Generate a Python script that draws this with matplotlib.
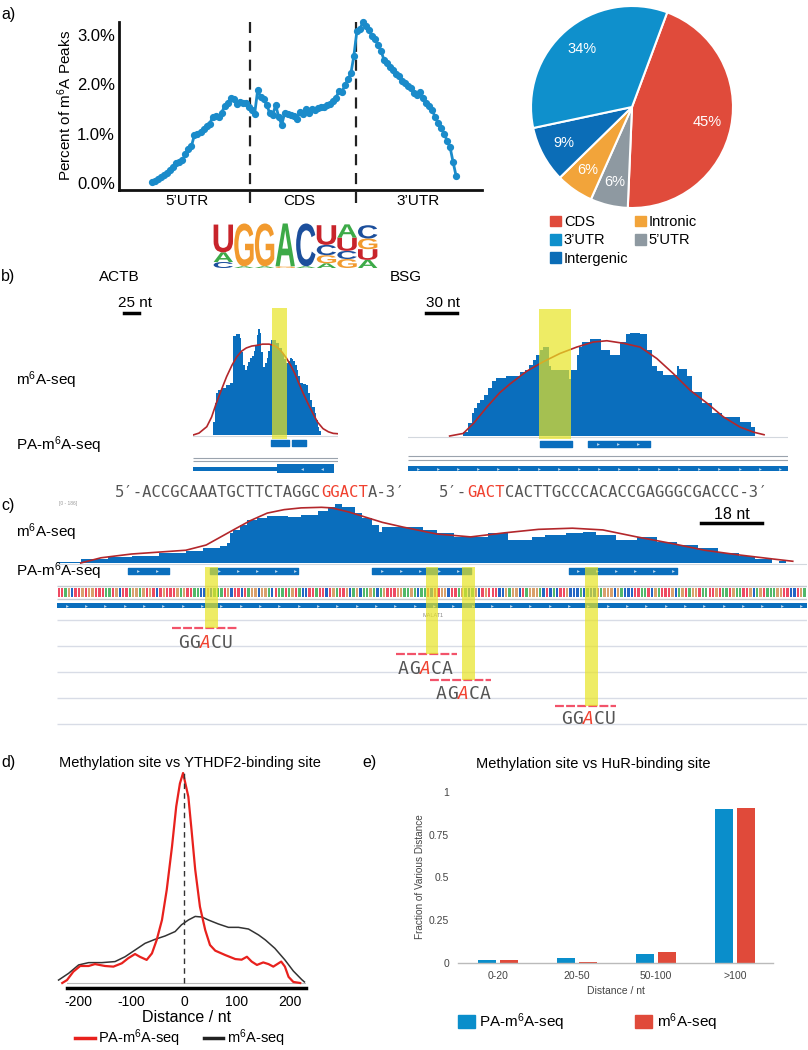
import numpy as np
import matplotlib
matplotlib.use('Agg')
import matplotlib.pyplot as plt
from matplotlib.patches import PathPatch, Patch
from matplotlib.lines import Line2D
from matplotlib.textpath import TextPath
from matplotlib.font_manager import FontProperties
from matplotlib.transforms import Affine2D

plt.rcParams['font.family'] = 'Liberation Sans'
plt.rcParams['mathtext.fontset'] = 'custom'
plt.rcParams['mathtext.rm'] = 'Liberation Sans'
plt.rcParams['mathtext.it'] = 'Liberation Sans:italic'
plt.rcParams['mathtext.bf'] = 'Liberation Sans:bold'

W, H = 808, 1050

# ---------------- data ----------------
# a) metagene profile of m6A peaks (percent), one value per bin
peak_pct = [0.02, 0.05, 0.09, 0.13, 0.17, 0.21, 0.27, 0.33, 0.40, 0.42,
            0.47, 0.58, 0.68, 0.75, 0.98, 1.00, 1.03, 1.10, 1.16, 1.20,
            1.33, 1.36, 1.34, 1.42, 1.56, 1.62, 1.72, 1.70, 1.60, 1.65,
            1.63, 1.62, 1.55, 1.48, 1.40, 1.88, 1.75, 1.70, 1.58, 1.42,
            1.38, 1.58, 1.34, 1.18, 1.42, 1.40, 1.38, 1.36, 1.30, 1.44,
            1.40, 1.50, 1.42, 1.50, 1.48, 1.52, 1.54, 1.55, 1.58, 1.60,
            1.66, 1.72, 1.86, 1.84, 1.98, 2.10, 2.22, 2.58, 3.08, 3.12,
            3.26, 3.18, 3.10, 2.98, 2.92, 2.80, 2.68, 2.50, 2.44, 2.36,
            2.30, 2.20, 2.16, 2.06, 2.02, 1.96, 1.92, 1.82, 1.78, 1.85,
            1.72, 1.62, 1.56, 1.48, 1.34, 1.22, 1.12, 1.00, 0.86, 0.72,
            0.42, 0.14]
region_edges = [32.4, 67.6]
region_names = ['5’UTR', 'CDS', '3’UTR']
region_centers = [11.5, 49, 88.5]

# motif logo, each column listed bottom -> top (letter, bits)
logo_cols = [
    [('C', 0.28), ('A', 0.45), ('U', 1.30)],
    [('A', 0.08), ('G', 2.00)],
    [('A', 0.08), ('G', 2.00)],
    [('G', 0.08), ('A', 2.00)],
    [('A', 0.08), ('C', 2.00)],
    [('A', 0.22), ('G', 0.38), ('C', 0.48), ('U', 0.92)],
    [('G', 0.42), ('C', 0.38), ('U', 0.62), ('A', 0.62)],
    [('A', 0.38), ('U', 0.50), ('G', 0.50), ('C', 0.62)],
]
logo_colors = {'U': '#C8242B', 'G': '#F29A2E', 'A': '#3DAA48', 'C': '#1C4F9C'}

# pie: peak distribution
pie_labels = ['CDS', '5’UTR', 'Intronic', 'Intergenic', '3’UTR']
pie_vals = [45, 6, 6, 9, 34]
pie_colors = ['#E04B3B', '#8E99A1', '#F2A43A', '#0B6DB7', '#0F90CC']

# b) ACTB coverage (step) and fit
actb_pos = [34, 36, 38, 42, 48, 55, 62, 66, 67, 72, 78, 80, 84, 87, 90, 92, 95, 98,
            101, 103, 106, 109, 112, 114, 117, 120, 123, 126, 128, 131, 135, 139,
            143, 148, 152, 156, 159, 162, 165, 167, 170, 173, 176, 178, 183, 189,
            192, 195, 199, 203, 206, 209, 211, 213]
actb_cov = [0.10, 0.25, 0.33, 0.35, 0.37, 0.39, 0.41, 0.60, 0.77, 0.79, 0.76, 0.65,
            0.55, 0.51, 0.54, 0.57, 0.60, 0.62, 0.66, 0.70, 0.78, 0.83, 0.80, 0.65,
            0.53, 0.56, 0.60, 0.66, 0.70, 0.74, 0.74, 0.72, 0.68, 0.63, 0.59, 0.56,
            0.58, 0.60, 0.59, 0.58, 0.55, 0.51, 0.46, 0.41, 0.40, 0.39, 0.33, 0.27,
            0.22, 0.17, 0.12, 0.06, 0.03, 0.0]
actb_fit_pos = [0, 10, 23, 31, 39, 48, 56, 65, 73, 81, 89, 98, 106, 116, 127, 135,
                142, 149, 156, 163, 170, 177, 184, 192, 200, 208, 217, 226, 234, 242]
actb_fit = [0.0, 0.015, 0.065, 0.14, 0.25, 0.36, 0.455, 0.545, 0.61, 0.655, 0.68,
            0.695, 0.70, 0.71, 0.71, 0.70, 0.68, 0.645, 0.60, 0.545, 0.48, 0.40,
            0.325, 0.245, 0.17, 0.10, 0.05, 0.025, 0.013, 0.01]
actb_site = (132, 157)
actb_pa = [(130, 30), (165, 23)]

# b) BSG coverage and fit
bsg_pos = [53, 58, 61, 63, 66, 69, 73, 77, 81, 85, 94, 104, 108, 112, 116, 120, 123,
           127, 130, 135, 137, 143, 155, 157, 162, 164, 167, 175, 185, 194, 204, 209,
           213, 223, 230, 234, 239, 245, 258, 260, 268, 273, 282, 292, 302, 319, 329,
           333]
bsg_cov = [0.03, 0.10, 0.18, 0.22, 0.26, 0.28, 0.32, 0.38, 0.43, 0.46, 0.47, 0.47,
           0.50, 0.52, 0.56, 0.60, 0.64, 0.68, 0.70, 0.55, 0.52, 0.52, 0.45, 0.52,
           0.64, 0.70, 0.74, 0.76, 0.68, 0.64, 0.74, 0.80, 0.81, 0.80, 0.68, 0.55,
           0.51, 0.48, 0.55, 0.53, 0.47, 0.35, 0.26, 0.18, 0.15, 0.11, 0.07, 0.0]
bsg_fit_pos = [40, 53, 63, 76, 88, 98, 114, 130, 146, 162, 178, 191, 207, 223, 239,
               255, 271, 287, 303, 319, 332, 342]
bsg_fit = [0.0, 0.02, 0.10, 0.23, 0.34, 0.41, 0.51, 0.585, 0.65, 0.70, 0.74, 0.75,
           0.73, 0.70, 0.61, 0.49, 0.36, 0.26, 0.15, 0.07, 0.03, 0.01]
bsg_site = (126, 157)
bsg_pa = [(127, 31), (173, 59)]

# c) MALAT1 region
c_pos = [0, 7, 15, 22, 30, 38, 43, 48, 50, 51, 52, 54, 56, 59, 62, 65, 68, 72, 77, 80,
         82, 84, 87, 88, 90, 93, 95, 96, 102, 108, 112, 117, 122, 127, 132, 133, 138,
         140, 144, 150, 155, 159, 165, 171, 177, 183, 189, 195, 201, 206, 211, 213, 215]
c_cov = [0.02, 0.07, 0.10, 0.12, 0.17, 0.21, 0.26, 0.29, 0.34, 0.52, 0.57, 0.66, 0.74,
         0.78, 0.81, 0.81, 0.79, 0.83, 0.90, 0.97, 1.02, 0.97, 0.97, 0.86, 0.78, 0.66,
         0.53, 0.62, 0.62, 0.57, 0.52, 0.45, 0.45, 0.52, 0.52, 0.40, 0.40, 0.45, 0.48,
         0.52, 0.53, 0.48, 0.40, 0.45, 0.36, 0.31, 0.26, 0.17, 0.12, 0.07, 0.0, 0.03, 0.0]
c_fit_pos = [7, 13, 22, 38, 44, 52, 57, 62, 67, 72, 78, 81, 86, 91, 96, 102, 107, 112,
             122, 132, 142, 152, 161, 171, 181, 191, 201, 211, 217]
c_fit = [0.0, 0.09, 0.155, 0.22, 0.31, 0.57, 0.73, 0.86, 0.92, 0.95, 0.96, 0.95, 0.88,
         0.79, 0.70, 0.62, 0.56, 0.50, 0.45, 0.52, 0.58, 0.60, 0.57, 0.45, 0.34, 0.22,
         0.14, 0.07, 0.03]
c_pa = [(21, 12), (45, 26), (93, 29), (151, 32)]
c_seq = ('TTAGCTTGTGGTTTAATGCTTAGGAGTGTCTGTTTGAGTTAACCGCAAATGCTTCTAGGCGGACTAATAGTACC'
         'TTATTCTGATTGCAGCAAGACAGTTTGGAAGACAATCTTGGCTTAGACAGCTGTTTCCGAGGCTAGGGACTC'
         'ACTTGCCCACACCGAGGGCGACCCTTAATCGATTTGCAGTAGGTAATTGTAATGAATTGCAGTAAAGGTTCCTGA')
base_colors = {'A': '#52B86A', 'C': '#2366C4', 'G': '#D9A06C', 'T': '#EE4A62'}
c_sites = [45.6, 110.6, 121.3, 157.7]
c_motifs = ['GGACU', 'AGACA', 'AGACA', 'GGACU']
c_reads = [(34, 53), (100, 118), (110, 128), (147, 165)]
c_motif_x = [43.7, 108.6, 119.8, 156.6]

# d) distance profiles
pa_nt = [-231, -222, -210, -197, -181, -169, -150, -134, -118, -106, -93, -84, -71,
         -61, -52, -42, -33, -23, -15, -8, -2, 8, 14, 21, 30, 40, 49, 59, 78, 97,
         109, 119, 128, 138, 150, 160, 169, 184, 191, 198, 207, 220]
pa_val = [0.0, 0.014, 0.054, 0.081, 0.081, 0.09, 0.081, 0.078, 0.094, 0.118, 0.138,
          0.125, 0.11, 0.141, 0.205, 0.30, 0.443, 0.649, 0.84, 0.95, 1.0, 0.887, 0.73,
          0.54, 0.363, 0.252, 0.181, 0.154, 0.133, 0.114, 0.111, 0.125, 0.102, 0.086,
          0.098, 0.09, 0.078, 0.102, 0.078, 0.029, 0.005, 0.0]
m6a_nt = [-238, -219, -200, -181, -156, -131, -112, -93, -74, -55, -36, -17, -5, 8,
          21, 34, 46, 65, 84, 103, 122, 141, 154, 172, 191, 207, 223, 228]
m6a_val = [0.014, 0.046, 0.086, 0.097, 0.097, 0.102, 0.125, 0.157, 0.189, 0.208,
           0.224, 0.245, 0.277, 0.30, 0.317, 0.314, 0.30, 0.281, 0.265, 0.265, 0.257,
           0.229, 0.205, 0.165, 0.11, 0.057, 0.016, 0.005]

# e) HuR distance fractions
e_cats = ['0-20', '20-50', '50-100', '>100']
e_pa = [0.017, 0.029, 0.050, 0.897]
e_m6a = [0.019, 0.008, 0.064, 0.905]

IGV_BLUE = '#0A6EBD'
FIT_RED = '#B3272B'
YEL = '#E8E424'

fig = plt.figure(figsize=(W / 100, H / 100), dpi=100)


def box(x0, y0, x1, y1):
    return [x0 / W, 1 - y1 / H, (x1 - x0) / W, (y1 - y0) / H]


def label(x, y, s, **kw):
    kw.setdefault('va', 'center')
    kw.setdefault('fontsize', 11)
    return fig.text(x / W, 1 - y / H, s, **kw)


def chevrons(ax, x0, x1, y, step, marker='>'):
    xs = np.arange(x0 + step / 2, x1, step)
    ax.plot(xs, np.full(len(xs), y), ls='none', marker=marker, ms=2.0,
            mfc='white', mec='none', alpha=0.75, zorder=4)


# ---------------- a) ----------------
label(1, 15, 'a)', fontsize=11.5)
ax = fig.add_axes(box(119, 22, 482, 190))
bins = np.arange(len(peak_pct))
ax.plot(bins, peak_pct, '-o', color='#1A8BCA', lw=2, ms=4.2, clip_on=False, zorder=3)
ax.set_xlim(-11.1, 109.6)
ax.set_ylim(-0.142, 3.264)
for b in region_edges:
    ax.plot([b, b], [-0.405, 3.264], color='#222222', lw=1.6, dashes=(5, 3.5),
            clip_on=False)
ax.set_yticks([0, 1, 2, 3])
ax.set_yticklabels(['0.0%', '1.0%', '2.0%', '3.0%'], fontsize=12)
ax.set_xticks(region_centers)
ax.set_xticklabels(region_names, fontsize=11)
ax.tick_params(length=0)
ax.tick_params(axis='y', pad=3)
ax.tick_params(axis='x', pad=3)
for s in ['top', 'right']:
    ax.spines[s].set_visible(False)
for s in ['left', 'bottom']:
    ax.spines[s].set_linewidth(2)
    ax.spines[s].set_color('#111111')
label(65, 105, 'Percent of m$^6$A Peaks', rotation=90, ha='center', fontsize=11)

# motif logo
axl = fig.add_axes(box(213, 222, 378, 268))
axl.set_xlim(0.5, 8.5)
axl.set_ylim(0, 2.15)
axl.axis('off')
fp = FontProperties(family='Liberation Sans', weight='bold')
for i, stack in enumerate(logo_cols):
    y = 0
    for letter, h in stack:
        tp = TextPath((0, 0), letter, size=1, prop=fp)
        bb = tp.get_extents()
        tr = (Affine2D().translate(-bb.x0, -bb.y0)
              .scale(0.94 / bb.width, h / bb.height)
              .translate(i + 1 - 0.47, y))
        axl.add_patch(PathPatch(tr.transform_path(tp), color=logo_colors[letter], lw=0))
        y += h

# pie
axp = fig.add_axes(box(531, 6, 733, 208))
axp.pie(pie_vals, colors=pie_colors, startangle=69.6, counterclock=False,
        autopct=lambda p: f'{p:.0f}%', pctdistance=0.76,
        wedgeprops=dict(edgecolor='white', linewidth=1.5),
        textprops=dict(color='white', fontsize=10.5))
axp.set_xlim(-1, 1)
axp.set_ylim(-1, 1)
order = [0, 4, 3, 2, 1]
handles = [Patch(color=pie_colors[i]) for i in order]
fig.legend(handles, [pie_labels[i] for i in order], ncol=2, loc='upper left',
           bbox_to_anchor=(550 / W, 1 - 215 / H), frameon=False, fontsize=10.5,
           handlelength=0.75, handleheight=0.75, handletextpad=0.2,
           columnspacing=0.45, labelspacing=0.3, borderpad=0, borderaxespad=0)

# ---------------- b) ----------------
label(1, 277, 'b)', fontsize=11.5)
label(99, 277, 'ACTB')
label(390, 277, 'BSG')
label(118, 303, '25 nt')
fig.add_artist(Line2D([124 / W, 139 / W], [1 - 313 / H] * 2, color='black', lw=2.5))
label(426, 303, '30 nt')
fig.add_artist(Line2D([426 / W, 457 / W], [1 - 313 / H] * 2, color='black', lw=2.5))
label(16, 380, 'm$^6$A-seq')
label(16, 445, 'PA-m$^6$A-seq')


def gene_track(rect, xmax, ylo, pos, cov, fit_pos, fit, site, site_y, pa, pa_y,
               gray_y):
    a = fig.add_axes(rect)
    a.set_facecolor('#F7F8FA')
    a.fill_between(pos, cov, step='post', color=IGV_BLUE, lw=0, zorder=2)
    a.plot(fit_pos, fit, color=FIT_RED, lw=1.2, zorder=3)
    a.axhline(-0.008, color='#D3D8DE', lw=0.8, zorder=1)
    a.fill_between(site, site_y[0], site_y[1], color=YEL, alpha=0.7, lw=0, zorder=5)
    a.broken_barh(pa, pa_y, color=IGV_BLUE, zorder=3)
    a.hlines(gray_y, 0, xmax, color='#9AA3AD', lw=0.8)
    a.set_xlim(0, xmax)
    a.set_ylim(ylo, 1.0)
    a.axis('off')
    return a


axa = gene_track(box(193, 307, 338, 476), 242, -0.32, actb_pos, actb_cov,
                 actb_fit_pos, actb_fit, actb_site, (-0.031, 0.99), actb_pa,
                 (-0.086, 0.047), [-0.18, -0.203])
axa.fill_between([0, 140], -0.281, -0.25, color=IGV_BLUE, lw=0)
axa.fill_between([140, 235], -0.297, -0.227, color=IGV_BLUE, lw=0)
chevrons(axa, 165, 235, -0.262, 33, marker='<')

axb = gene_track(box(408, 309, 788, 476), 365, -0.315, bsg_pos, bsg_cov,
                 bsg_fit_pos, bsg_fit, bsg_site, (-0.024, 1.0), bsg_pa,
                 (-0.087, 0.048), [-0.157, -0.189])
axb.fill_between([0, 365], -0.276, -0.236, color=IGV_BLUE, lw=0)
chevrons(axb, 0, 365, -0.256, 19.3)
chevrons(axb, 173, 232, -0.063, 19.3)

# sequences
mono = 'DejaVu Sans Mono'
cw = 0.602 * 11.2 * 100 / 72


def seq_line(x, y, parts):
    for txt, col in parts:
        label(x, y, txt, family=mono, fontsize=11.2, color=col, ha='left')
        x += len(txt) * cw


seq_line(115, 492, [('5′-ACCGCAAATGCTTCTAGGC', '#555555'), ('GGACT', '#F0412F'),
                    ('A-3′', '#555555')])
seq_line(439, 492, [('5′-', '#555555'), ('GACT', '#F0412F'),
                    ('CACTTGCCCACACCGAGGGCGACCC-3′', '#555555')])

# ---------------- c) ----------------
label(1, 505, 'c)', fontsize=11.5)
label(16, 532, 'm$^6$A-seq')
label(16, 571, 'PA-m$^6$A-seq')
axc = fig.add_axes(box(57, 500, 807, 730))
axc.set_facecolor('#FAFAFC')
axc.fill_between(c_pos, c_cov, step='post', color=IGV_BLUE, lw=0, zorder=2)
axc.plot(c_fit_pos, c_fit, color=FIT_RED, lw=1.2, zorder=3)
axc.axhline(-0.01, color='#D3D8DE', lw=0.8)
axc.text(0.5, 1.03, '[0 - 186]', fontsize=3.5, color='#999999', va='center')
axc.broken_barh(c_pa, (-0.19, 0.10), color=IGV_BLUE, zorder=3)
for x0, w in c_pa:
    chevrons(axc, x0, x0 + w, -0.14, 5.6)
axc.hlines([-0.40, -0.62], 0, 221.2, color='#C4C9D0', lw=1)
seq = c_seq[:221]
axc.bar(np.arange(len(seq)) + 0.5, 0.16, bottom=-0.59, width=0.7,
        color=[base_colors[b] for b in seq], lw=0)
axc.fill_between([0, 221.2], -0.78, -0.69, color=IGV_BLUE, lw=0)
chevrons(axc, 0, 221.2, -0.735, 5.7)
axc.text(111, -0.91, 'MALAT1', fontsize=4, color='#888888', ha='center', va='center')
axc.hlines([-0.98, -1.43, -1.88, -2.33, -2.78], 0, 221.2, color='#D8DCE6', lw=1)
read_y = [-1.12, -1.57, -2.02, -2.47]
text_y = [-1.38, -1.83, -2.26, -2.69]
for site, (r0, r1), ry, mx, ty, motif in zip(c_sites, c_reads, read_y, c_motif_x,
                                              text_y, c_motifs):
    axc.fill_between([site - 1.85, site + 1.85], ry, -0.07, color=YEL, alpha=0.7,
                     lw=0, zorder=5)
    axc.plot([r0, r1], [ry, ry], color='#F2536A', lw=1.6, dashes=(4, 1), zorder=4)
    for k, ch in enumerate(motif):
        red = k == 2
        axc.annotate(ch, (mx, ty), xytext=((k - 2) * 0.602 * 13, 0),
                     textcoords='offset points', ha='center', va='center',
                     family=mono, fontsize=13,
                     color='#F0412F' if red else '#555555',
                     style='italic' if red else 'normal')
axc.plot([190, 208], [0.69, 0.69], color='black', lw=2.5)
axc.text(199, 0.83, '18 nt', ha='center', va='center', fontsize=11.5)
axc.set_xlim(0, 221.2)
axc.set_ylim(-2.879, 1.086)
axc.axis('off')

# ---------------- d) ----------------
label(1, 763, 'd)', fontsize=11.5)
label(190, 763, 'Methylation site vs YTHDF2-binding site', ha='center', fontsize=10.5)
axd = fig.add_axes(box(67, 768, 306, 988))
axd.axhline(0, color='#BBBBBB', lw=0.8)
axd.plot(m6a_nt, m6a_val, color='#333333', lw=1.1, clip_on=False)
axd.plot(pa_nt, pa_val, color='#E8211D', lw=1.6, clip_on=False)
axd.plot([0, 0], [0, 1.0], color='#333333', lw=1, dashes=(4, 3))
axd.set_xlim(-222, 231)
axd.set_ylim(-0.0238, 1.0238)
for s in ['top', 'right', 'left']:
    axd.spines[s].set_visible(False)
axd.spines['bottom'].set_linewidth(2.5)
axd.set_yticks([])
axd.set_xticks([-200, -100, 0, 100, 200])
axd.set_xticklabels(['-200', '-100', '0', '100', '200'])
axd.tick_params(axis='x', length=0, pad=5, labelsize=10)
axd.set_xlabel('Distance / nt', fontsize=11.5, labelpad=1)
fig.legend([Line2D([], [], color='#E8211D', lw=2.5), Line2D([], [], color='#222222', lw=2.5)],
           ['PA-m$^6$A-seq', 'm$^6$A-seq'], ncol=2, loc='center left',
           bbox_to_anchor=(75 / W, 1 - 1038 / H), frameon=False, fontsize=10.5,
           handlelength=1.35, handletextpad=0.25, columnspacing=1.6,
           borderpad=0, borderaxespad=0)

# ---------------- e) ----------------
label(362, 763, 'e)', fontsize=11.5)
label(593, 764, 'Methylation site vs HuR-binding site', ha='center', fontsize=10.5)
axe = fig.add_axes(box(458, 785, 773, 963))
xe = np.arange(len(e_cats))
axe.bar(xe - 0.143, e_pa, width=0.225, color='#0A8ECB')
axe.bar(xe + 0.143, e_m6a, width=0.225, color='#E04A3A')
axe.set_xlim(-0.506, 3.48)
axe.set_ylim(0, 1.04)
for s in ['top', 'right', 'left']:
    axe.spines[s].set_visible(False)
axe.spines['bottom'].set_color('#BBBBBB')
axe.spines['bottom'].set_linewidth(1)
axe.set_yticks([0, 0.25, 0.5, 0.75, 1])
axe.set_yticklabels(['0', '0.25', '0.5', '0.75', '1'])
axe.set_xticks(xe)
axe.set_xticklabels(e_cats)
axe.tick_params(length=0, labelsize=7.5, labelcolor='#444444')
axe.tick_params(axis='y', pad=6.5)
axe.tick_params(axis='x', pad=6)
axe.set_xlabel('Distance / nt', fontsize=7.5, color='#444444', labelpad=3)
label(420, 877, 'Fraction of Various Distance', rotation=90, ha='center',
      fontsize=7.2, color='#444444')
fig.legend([Patch(color='#0A8ECB'), Patch(color='#E04A3A')],
           ['PA-m$^6$A-seq', 'm$^6$A-seq'], ncol=2, loc='center left',
           bbox_to_anchor=(458 / W, 1 - 1022 / H), frameon=False, fontsize=11,
           handlelength=1.1, handleheight=0.9, handletextpad=0.3, columnspacing=4.6,
           borderpad=0, borderaxespad=0)

fig.savefig('out.png', dpi=100)
